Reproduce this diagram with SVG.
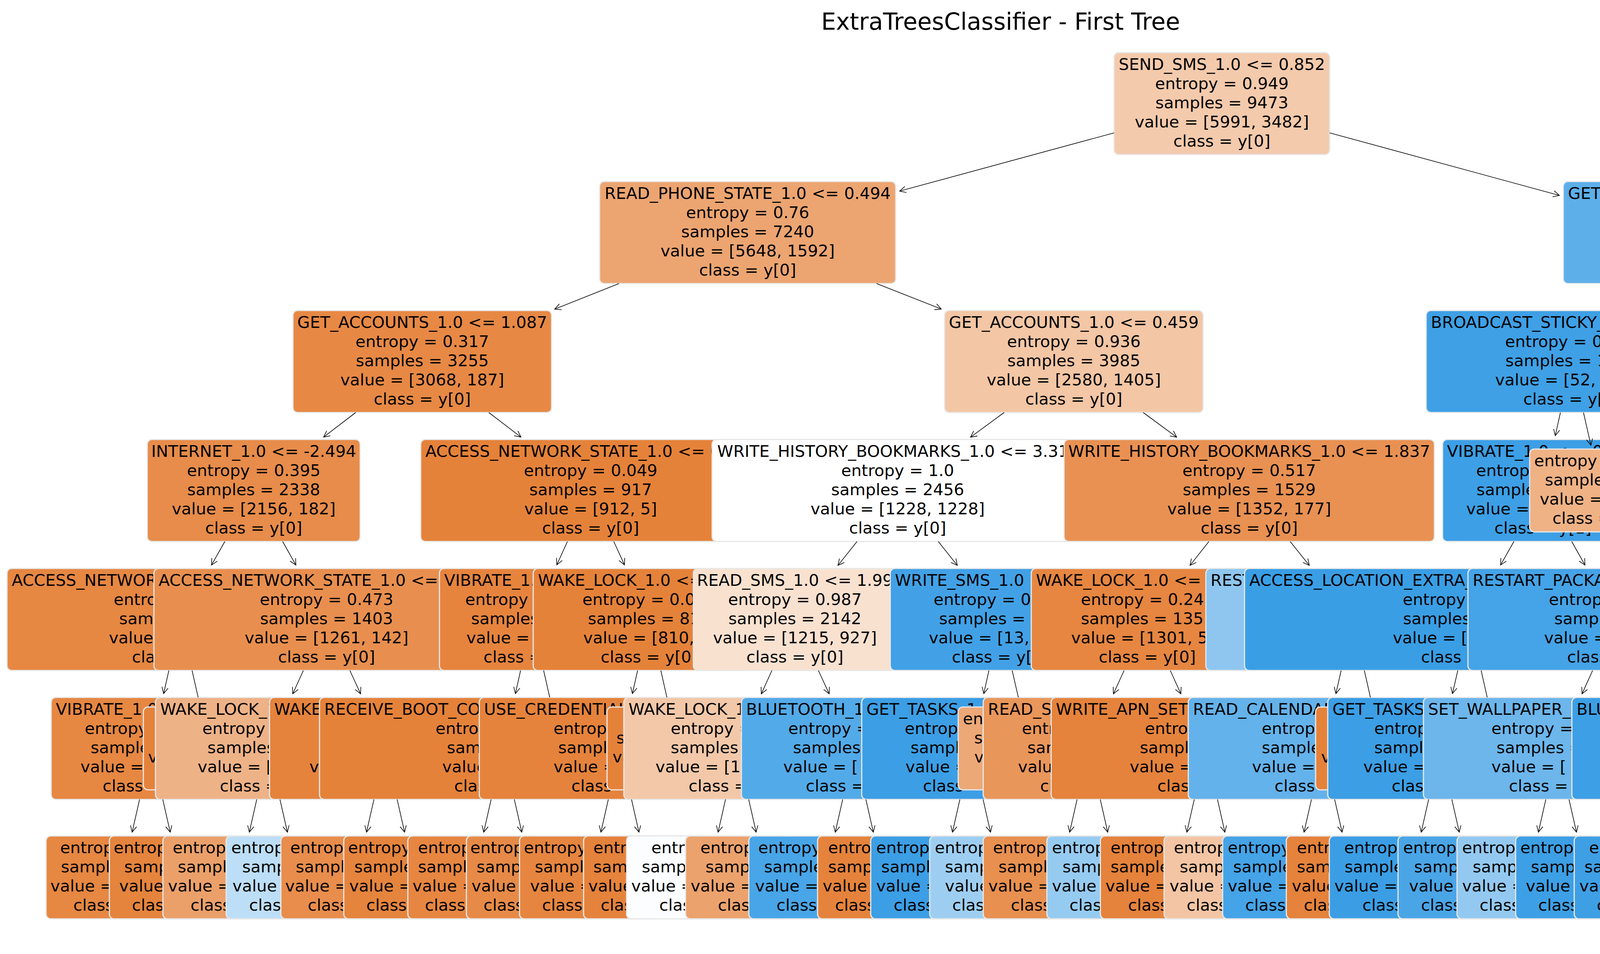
<svg xmlns="http://www.w3.org/2000/svg" width="5123" height="2441" viewBox="0 0 5123 2441">
<style>
text{font-family:'DejaVu Sans','Liberation Sans',sans-serif;font-size:41.67px;fill:#000}
.m{text-anchor:middle}
.b{stroke:#e8e8e8;stroke-width:3}
.e{stroke:#000;stroke-width:1.6;fill:none}
.h{marker-end:url(#ah)}
</style>
<defs>
<marker id="ah" markerUnits="userSpaceOnUse" markerWidth="24" markerHeight="20" refX="16" refY="8" orient="auto" overflow="visible"><path d="M0,0 L16,8 L0,16" fill="none" stroke="#000" stroke-width="1.6"/></marker>
</defs>
<rect width="5123" height="2441" fill="#fff"/>
<text x="2561.5" y="76" class="m" style="font-size:60px">ExtraTreesClassifier - First Tree</text>

<g id="level6">
<g id="n6-1"><rect class="b" x="118" y="2139" width="388" height="212" rx="12" fill="#e68742"/><text x="154" y="2183">entropy =</text><text x="156" y="2232">samples =</text><text x="129" y="2281">value = [</text><text class="m" x="312" y="2330">class = y[0]</text></g>
<g id="n6-2"><rect class="b" x="280" y="2139" width="364" height="212" rx="12" fill="#e5843d"/><text x="291" y="2183">entropy =</text><text x="318" y="2232">samples =</text><text x="305" y="2281">value = [</text><text class="m" x="462" y="2330">class = y[0]</text></g>
<g id="n6-3"><rect class="b" x="417" y="2139" width="390" height="212" rx="12" fill="#eba06a"/><text x="442" y="2183">entropy =</text><text x="455" y="2232">samples =</text><text x="430" y="2281">value = [</text><text class="m" x="612" y="2330">class = y[0]</text></g>
<g id="n6-4"><rect class="b" x="579" y="2139" width="366" height="212" rx="12" fill="#bcdef6"/><text x="592" y="2183">entropy =</text><text x="620" y="2232">samples =</text><text x="595" y="2281">value = [</text><text class="m" x="762" y="2330">class = y[1]</text></g>
<g id="n6-5"><rect class="b" x="719" y="2139" width="386" height="212" rx="12" fill="#e88d4c"/><text x="743" y="2183">entropy =</text><text x="757" y="2232">samples =</text><text x="730" y="2281">value = [</text><text class="m" x="912" y="2330">class = y[0]</text></g>
<g id="n6-6"><rect class="b" x="880" y="2139" width="364" height="212" rx="12" fill="#e5843d"/><text x="891" y="2183">entropy =</text><text x="907" y="2232">samples =</text><text x="894" y="2281">value = [</text><text class="m" x="1062" y="2330">class = y[0]</text></g>
<g id="n6-7"><rect class="b" x="1044" y="2139" width="336" height="212" rx="12" fill="#e68641"/><text x="1070" y="2183">entropy =</text><text x="1070" y="2232">samples =</text><text x="1056" y="2281">value = [</text><text class="m" x="1212" y="2330">class = y[0]</text></g>
<g id="n6-8"><rect class="b" x="1194" y="2139" width="336" height="212" rx="12" fill="#e78a47"/><text x="1204" y="2183">entropy =</text><text x="1220" y="2232">samples =</text><text x="1207" y="2281">value = [</text><text class="m" x="1362" y="2330">class = y[0]</text></g>
<g id="n6-9"><rect class="b" x="1330" y="2139" width="364" height="212" rx="12" fill="#e6853f"/><text x="1341" y="2183">entropy =</text><text x="1369" y="2232">samples =</text><text x="1357" y="2281">value = [</text><text class="m" x="1512" y="2330">class = y[0]</text></g>
<g id="n6-10"><rect class="b" x="1494" y="2139" width="336" height="212" rx="12" fill="#e5823b"/><text x="1519" y="2183">entropy =</text><text x="1519" y="2232">samples =</text><text x="1506" y="2281">value = [</text><text class="m" x="1662" y="2330">class = y[0]</text></g>
<g id="n6-11"><rect class="b" x="1604" y="2139" width="416" height="212" rx="12" fill="#fbfdff"/><text class="m" x="1812" y="2183">entropy = 1.0</text><text x="1643" y="2232">samples =</text><text x="1616" y="2281">value = [</text><text class="m" x="1812" y="2330">class = y[0]</text></g>
<g id="n6-12"><rect class="b" x="1755" y="2139" width="414" height="212" rx="12" fill="#eca26d"/><text x="1793" y="2183">entropy =</text><text x="1806" y="2232">samples =</text><text x="1768" y="2281">value = [</text><text class="m" x="1962" y="2330">class = y[0]</text></g>
<g id="n6-13"><rect class="b" x="1917" y="2139" width="390" height="212" rx="12" fill="#48a5e7"/><text x="1941" y="2183">entropy =</text><text x="1956" y="2232">samples =</text><text x="1933" y="2281">value = [</text><text class="m" x="2112" y="2330">class = y[1]</text></g>
<g id="n6-14"><rect class="b" x="2093" y="2139" width="338" height="212" rx="12" fill="#e5833c"/><text x="2120" y="2183">entropy =</text><text x="2120" y="2232">samples =</text><text x="2106" y="2281">value = [</text><text class="m" x="2262" y="2330">class = y[0]</text></g>
<g id="n6-15"><rect class="b" x="2229" y="2139" width="366" height="212" rx="12" fill="#3c9ee5"/><text x="2243" y="2183">entropy =</text><text x="2256" y="2232">samples =</text><text x="2243" y="2281">value = [</text><text class="m" x="2412" y="2330">class = y[1]</text></g>
<g id="n6-16"><rect class="b" x="2380" y="2139" width="364" height="212" rx="12" fill="#9dcef2"/><text x="2393" y="2183">entropy =</text><text x="2419" y="2232">samples =</text><text x="2419" y="2281">value = [</text><text class="m" x="2562" y="2330">class = y[1]</text></g>
<g id="n6-17"><rect class="b" x="2517" y="2139" width="390" height="212" rx="12" fill="#e89050"/><text x="2542" y="2183">entropy =</text><text x="2556" y="2232">samples =</text><text x="2530" y="2281">value = [</text><text class="m" x="2712" y="2330">class = y[0]</text></g>
<g id="n6-18"><rect class="b" x="2680" y="2139" width="364" height="212" rx="12" fill="#96cbf1"/><text x="2693" y="2183">entropy =</text><text x="2720" y="2232">samples =</text><text x="2693" y="2281">value = [</text><text class="m" x="2862" y="2330">class = y[1]</text></g>
<g id="n6-19"><rect class="b" x="2817" y="2139" width="390" height="212" rx="12" fill="#e5823b"/><text x="2843" y="2183">entropy =</text><text x="2843" y="2232">samples =</text><text x="2830" y="2281">value = [</text><text class="m" x="3012" y="2330">class = y[0]</text></g>
<g id="n6-20"><rect class="b" x="2980" y="2139" width="364" height="212" rx="12" fill="#f3c5a4"/><text x="3005" y="2183">entropy =</text><text x="3020" y="2232">samples =</text><text x="2994" y="2281">value = [</text><text class="m" x="3162" y="2330">class = y[0]</text></g>
<g id="n6-21"><rect class="b" x="3130" y="2139" width="364" height="212" rx="12" fill="#45a3e7"/><text x="3143" y="2183">entropy =</text><text x="3157" y="2232">samples =</text><text x="3143" y="2281">value = [</text><text class="m" x="3312" y="2330">class = y[1]</text></g>
<g id="n6-22"><rect class="b" x="3293" y="2139" width="338" height="212" rx="12" fill="#e5823b"/><text x="3320" y="2183">entropy =</text><text x="3320" y="2232">samples =</text><text x="3307" y="2281">value = [</text><text class="m" x="3462" y="2330">class = y[0]</text></g>
<g id="n6-23"><rect class="b" x="3403" y="2139" width="418" height="212" rx="12" fill="#3b9ee5"/><text x="3441" y="2183">entropy =</text><text x="3442" y="2232">samples =</text><text x="3416" y="2281">value = [</text><text class="m" x="3612" y="2330">class = y[1]</text></g>
<g id="n6-24"><rect class="b" x="3579" y="2139" width="366" height="212" rx="12" fill="#4aa5e7"/><text x="3592" y="2183">entropy =</text><text x="3620" y="2232">samples =</text><text x="3607" y="2281">value = [</text><text class="m" x="3762" y="2330">class = y[1]</text></g>
<g id="n6-25"><rect class="b" x="3730" y="2139" width="364" height="212" rx="12" fill="#93c9f1"/><text x="3743" y="2183">entropy =</text><text x="3770" y="2232">samples =</text><text x="3743" y="2281">value = [</text><text class="m" x="3912" y="2330">class = y[1]</text></g>
<g id="n6-26"><rect class="b" x="3880" y="2139" width="364" height="212" rx="12" fill="#3d9fe5"/><text x="3892" y="2183">entropy =</text><text x="3919" y="2232">samples =</text><text x="3906" y="2281">value = [</text><text class="m" x="4062" y="2330">class = y[1]</text></g>
<g id="n6-27"><rect class="b" x="4030" y="2139" width="364" height="212" rx="12" fill="#3e9fe5"/><text x="4068" y="2183">entropy =</text><text x="4056" y="2232">samples =</text><text x="4043" y="2281">value = [</text><text class="m" x="4212" y="2330">class = y[1]</text></g>
<g id="n6-28"><rect class="b" x="4180" y="2139" width="364" height="212" rx="12" fill="#3b9ee5"/><text x="4191" y="2183">entropy =</text><text x="4219" y="2232">samples =</text><text x="4206" y="2281">value = [</text><text class="m" x="4362" y="2330">class = y[1]</text></g>
<g id="n6-29"><rect class="b" x="4329" y="2139" width="366" height="212" rx="12" fill="#eaf5fc"/><text class="m" x="4512" y="2183">entropy = 0.998</text><text class="m" x="4512" y="2232">samples = 72</text><text class="m" x="4512" y="2281">value = [34, 38]</text><text class="m" x="4512" y="2330">class = y[1]</text></g>
<g id="n6-30"><rect class="b" x="4480" y="2139" width="364" height="212" rx="12" fill="#e89050"/><text class="m" x="4662" y="2183">entropy = 0.483</text><text class="m" x="4662" y="2232">samples = 67</text><text class="m" x="4662" y="2281">value = [60, 7]</text><text class="m" x="4662" y="2330">class = y[0]</text></g>
</g>

<g id="level5">
<g id="n5-vibrate"><rect class="b" x="131" y="1784.5" width="512" height="261" rx="12" fill="#e68742"/><text x="143" y="1828.5">VIBRATE_1.0 &lt;=</text><text x="217" y="1877.5">entropy =</text><text x="232" y="1926.5">samples =</text><text x="206" y="1975.5">value = [</text><text class="m" x="387" y="2024.5">class = y[0]</text></g>
<g id="n5-leaf537"><rect class="b" x="367" y="1809" width="340" height="212" rx="12" fill="#e5823a"/><text x="379" y="1951">value =</text></g>
<g id="n5-wakelock-a"><rect class="b" x="398" y="1784.5" width="578" height="261" rx="12" fill="#eeb287"/><text x="410" y="1828.5">WAKE_LOCK_1.0 &lt;=</text><text x="518" y="1877.5">entropy =</text><text x="531" y="1926.5">samples =</text><text x="506" y="1975.5">value = [</text><text class="m" x="687" y="2024.5">class = y[0]</text></g>
<g id="n5-wake"><rect class="b" x="690" y="1784.5" width="594" height="261" rx="12" fill="#e5833c"/><text x="702" y="1828.5">WAKE</text><text x="792" y="1975.5">value =</text></g>
<g id="n5-receive"><rect class="b" x="818" y="1784.5" width="938" height="261" rx="12" fill="#e5823a"/><text x="830" y="1828.5">RECEIVE_BOOT_CO</text><text x="1115" y="1877.5">entropy =</text><text x="1144" y="1926.5">samples =</text><text x="1132" y="1975.5">value = [</text><text class="m" x="1287" y="2024.5">class = y[0]</text></g>
<g id="n5-usecred"><rect class="b" x="1227" y="1784.5" width="720" height="261" rx="12" fill="#e5833c"/><text x="1239" y="1828.5">USE_CREDENTIALS_1.0 &lt;=</text><text x="1417" y="1877.5">entropy =</text><text x="1429" y="1926.5">samples =</text><text x="1417" y="1975.5">value = [</text><text class="m" x="1587" y="2024.5">class = y[0]</text></g>
<g id="n5-leaf1737"><rect class="b" x="1554" y="1809" width="366" height="212" rx="12" fill="#e5823a"/><text x="1578" y="1902">samples =</text><text x="1568" y="1951">value =</text></g>
<g id="n5-wakelock-b"><rect class="b" x="1597" y="1784.5" width="580" height="261" rx="12" fill="#f2c8a9"/><text x="1609" y="1828.5">WAKE_LOCK_1.0 &lt;=</text><text x="1717" y="1877.5">entropy =</text><text x="1717" y="1926.5">samples =</text><text x="1678" y="1975.5">value = [1</text><text class="m" x="1887" y="2024.5">class = y[0]</text></g>
<g id="n5-bluetooth-a"><rect class="b" x="1898" y="1784.5" width="578" height="261" rx="12" fill="#53aae8"/><text x="1910" y="1828.5">BLUETOOTH_1.0 &lt;=</text><text x="2018" y="1877.5">entropy =</text><text x="2030" y="1926.5">samples =</text><text x="2005" y="1975.5">value = [</text><text class="m" x="2187" y="2024.5">class = y[1]</text></g>
<g id="n5-gettasks-a"><rect class="b" x="2206" y="1784.5" width="562" height="261" rx="12" fill="#3c9ee5"/><text x="2218" y="1828.5">GET_TASKS_1.0 &lt;=</text><text x="2316" y="1877.5">entropy =</text><text x="2331" y="1926.5">samples =</text><text x="2318" y="1975.5">value = [</text><text class="m" x="2487" y="2024.5">class = y[1]</text></g>
<g id="n5-leaf2637"><rect class="b" x="2453" y="1809" width="368" height="212" rx="12" fill="#eda877"/><text x="2465" y="1853">entropy =</text><text x="2494" y="1902">samples =</text><text x="2494" y="1951">value =</text></g>
<g id="n5-reads"><rect class="b" x="2517" y="1784.5" width="540" height="261" rx="12" fill="#e9965a"/><text x="2529" y="1828.5">READ_S</text><text x="2616" y="1877.5">entropy =</text><text x="2630" y="1926.5">samples =</text><text x="2606" y="1975.5">value = [</text><text class="m" x="2787" y="2024.5">class = y[0]</text></g>
<g id="n5-writeapn"><rect class="b" x="2691" y="1784.5" width="792" height="261" rx="12" fill="#e5833c"/><text x="2703" y="1828.5">WRITE_APN_SET</text><text x="2931" y="1877.5">entropy =</text><text x="2918" y="1926.5">samples =</text><text x="2892" y="1975.5">value = [</text><text class="m" x="3087" y="2024.5">class = y[0]</text></g>
<g id="n5-readcal"><rect class="b" x="3042" y="1784.5" width="690" height="261" rx="12" fill="#64b2eb"/><text x="3054" y="1828.5">READ_CALENDAR</text><text x="3230" y="1877.5">entropy =</text><text x="3230" y="1926.5">samples =</text><text x="3205" y="1975.5">value = [</text><text class="m" x="3387" y="2024.5">class = y[1]</text></g>
<g id="n5-leaf3537"><rect class="b" x="3368" y="1809" width="338" height="212" rx="12" fill="#e5823a"/><text x="3382" y="1951">value =</text></g>
<g id="n5-gettasks-b"><rect class="b" x="3399" y="1784.5" width="576" height="261" rx="12" fill="#3c9ee5"/><text x="3411" y="1828.5">GET_TASKS_1.0 &lt;=</text><text x="3518" y="1877.5">entropy =</text><text x="3518" y="1926.5">samples =</text><text x="3490" y="1975.5">value = [</text><text class="m" x="3687" y="2024.5">class = y[1]</text></g>
<g id="n5-setwall"><rect class="b" x="3644" y="1784.5" width="686" height="261" rx="12" fill="#6cb6ec"/><text x="3656" y="1828.5">SET_WALLPAPER_1.0 &lt;=</text><text x="3818" y="1877.5">entropy =</text><text x="3831" y="1926.5">samples =</text><text x="3818" y="1975.5">value = [</text><text class="m" x="3987" y="2024.5">class = y[1]</text></g>
<g id="n5-bluetooth-b"><rect class="b" x="4024" y="1784.5" width="526" height="261" rx="12" fill="#3d9fe5"/><text x="4036" y="1828.5">BLUETOOTH_1.0 &lt;=</text><text x="4130" y="1877.5">entropy =</text><text x="4131" y="1926.5">samples =</text><text x="4119" y="1975.5">value = [</text><text class="m" x="4287" y="2024.5">class = y[1]</text></g>
<g id="n5-gettasks-c"><rect class="b" x="4305" y="1784.5" width="562" height="261" rx="12" fill="#f1bd98"/><text class="m" x="4586" y="1828.5">GET_TASKS_1.0 &lt;= 2.058</text><text class="m" x="4586" y="1877.5">entropy = 0.908</text><text class="m" x="4586" y="1926.5">samples = 139</text><text class="m" x="4586" y="1975.5">value = [94, 45]</text><text class="m" x="4586" y="2024.5">class = y[0]</text></g>
<g id="n5-leaf55"><rect class="b" x="4569" y="1809" width="336" height="212" rx="12" fill="#e58139"/><text class="m" x="4737" y="1853">entropy = 0.0</text><text class="m" x="4737" y="1902">samples = 55</text><text class="m" x="4737" y="1951">value = [55, 0]</text><text class="m" x="4737" y="2000">class = y[0]</text></g>
</g>

<g id="level4">
<g id="n4-ans-a"><rect class="b" x="18" y="1454.5" width="888" height="261" rx="12" fill="#e68742"/><text x="30" y="1498.5">ACCESS_NETWORK_STATE_1.0 &lt;=</text><text class="m" x="462" y="1547.5">entropy = 0.255</text><text class="m" x="462" y="1596.5">samples = 935</text><text class="m" x="462" y="1645.5">value = [895, 40]</text><text class="m" x="462" y="1694.5">class = y[0]</text></g>
<g id="n4-ans-b"><rect class="b" x="394" y="1454.5" width="884" height="261" rx="12" fill="#e88f4f"/><text x="406" y="1498.5">ACCESS_NETWORK_STATE_1.0 &lt;=</text><text class="m" x="836" y="1547.5">entropy = 0.473</text><text class="m" x="836" y="1596.5">samples = 1403</text><text class="m" x="836" y="1645.5">value = [1261, 142]</text><text class="m" x="836" y="1694.5">class = y[0]</text></g>
<g id="n4-vibrate"><rect class="b" x="1125" y="1454.5" width="474" height="261" rx="12" fill="#e6843e"/><text x="1137" y="1498.5">VIBRATE_1.0 &lt;=</text><text x="1191" y="1547.5">entropy =</text><text x="1206" y="1596.5">samples =</text><text x="1194" y="1645.5">value =</text><text class="m" x="1362" y="1694.5">class = y[0]</text></g>
<g id="n4-wakelock"><rect class="b" x="1365" y="1454.5" width="594" height="261" rx="12" fill="#e5823a"/><text x="1377" y="1498.5">WAKE_LOCK_1.0 &lt;=</text><text x="1491" y="1547.5">entropy = 0.0</text><text x="1505" y="1596.5">samples = 81</text><text x="1493" y="1645.5">value = [810,</text><text class="m" x="1662" y="1694.5">class = y[0]</text></g>
<g id="n4-readsms"><rect class="b" x="1775" y="1454.5" width="520" height="261" rx="12" fill="#f9e1d0"/><text class="m" x="2035" y="1498.5">READ_SMS_1.0 &lt;= 1.99</text><text class="m" x="2035" y="1547.5">entropy = 0.987</text><text class="m" x="2035" y="1596.5">samples = 2142</text><text class="m" x="2035" y="1645.5">value = [1215, 927]</text><text class="m" x="2035" y="1694.5">class = y[0]</text></g>
<g id="n4-writesms"><rect class="b" x="2279" y="1454.5" width="564" height="261" rx="12" fill="#42a1e6"/><text x="2291" y="1498.5">WRITE_SMS_1.0 &lt;=</text><text class="m" x="2561" y="1547.5">entropy = 0.249</text><text class="m" x="2561" y="1596.5">samples = 314</text><text class="m" x="2561" y="1645.5">value = [13, 301]</text><text class="m" x="2561" y="1694.5">class = y[1]</text></g>
<g id="n4-wakelock-b"><rect class="b" x="2640" y="1454.5" width="594" height="261" rx="12" fill="#e68641"/><text x="2652" y="1498.5">WAKE_LOCK_1.0 &lt;=</text><text x="2767" y="1547.5">entropy = 0.24</text><text x="2767" y="1596.5">samples = 135</text><text x="2742" y="1645.5">value = [1301, 5</text><text class="m" x="2937" y="1694.5">class = y[0]</text></g>
<g id="n4-rest-a"><rect class="b" x="3087" y="1454.5" width="752" height="261" rx="12" fill="#8ec6f0"/><text x="3099" y="1498.5">REST</text></g>
<g id="n4-accessloc"><rect class="b" x="3186" y="1454.5" width="1152" height="261" rx="12" fill="#3a9ee5"/><text x="3198" y="1498.5">ACCESS_LOCATION_EXTRA_</text><text class="m" x="3762" y="1547.5">entropy = 0.086</text><text class="m" x="3762" y="1596.5">samples = 1389</text><text class="m" x="3762" y="1645.5">value = [15, 1374]</text><text class="m" x="3762" y="1694.5">class = y[1]</text></g>
<g id="n4-restart-b"><rect class="b" x="3758" y="1454.5" width="756" height="261" rx="12" fill="#45a3e7"/><text x="3770" y="1498.5">RESTART_PACKAGES_1.0 &lt;=</text><text class="m" x="4136" y="1547.5">entropy = 0.307</text><text class="m" x="4136" y="1596.5">samples = 436</text><text class="m" x="4136" y="1645.5">value = [24, 412]</text><text class="m" x="4136" y="1694.5">class = y[1]</text></g>
<g id="n4-usecred"><rect class="b" x="4302" y="1454.5" width="720" height="261" rx="12" fill="#eda775"/><text class="m" x="4662" y="1498.5">USE_CREDENTIALS_1.0 &lt;= 0.103</text><text class="m" x="4662" y="1547.5">entropy = 0.781</text><text class="m" x="4662" y="1596.5">samples = 194</text><text class="m" x="4662" y="1645.5">value = [149, 45]</text><text class="m" x="4662" y="1694.5">class = y[0]</text></g>
<g id="n4-leaf142"><rect class="b" x="4631" y="1479" width="362" height="212" rx="12" fill="#e58139"/><text class="m" x="4812" y="1523">entropy = 0.0</text><text class="m" x="4812" y="1572">samples = 142</text><text class="m" x="4812" y="1621">value = [142, 0]</text><text class="m" x="4812" y="1670">class = y[0]</text></g>
</g>

<g id="level3">
<g id="n3-internet"><rect class="b" x="377" y="1124.5" width="545" height="261" rx="12" fill="#e78c4a"/><text class="m" x="649.5" y="1168.5">INTERNET_1.0 &lt;= -2.494</text><text class="m" x="649.5" y="1217.5">entropy = 0.395</text><text class="m" x="649.5" y="1266.5">samples = 2338</text><text class="m" x="649.5" y="1315.5">value = [2156, 182]</text><text class="m" x="649.5" y="1364.5">class = y[0]</text></g>
<g id="n3-ans"><rect class="b" x="1077" y="1124.5" width="870" height="261" rx="12" fill="#e5823a"/><text x="1089" y="1168.5">ACCESS_NETWORK_STATE_1.0 &lt;= 0</text><text class="m" x="1512" y="1217.5">entropy = 0.049</text><text class="m" x="1512" y="1266.5">samples = 917</text><text class="m" x="1512" y="1315.5">value = [912, 5]</text><text class="m" x="1512" y="1364.5">class = y[0]</text></g>
<g id="n3-whb-a"><rect class="b" x="1823" y="1124.5" width="950" height="261" rx="12" fill="#ffffff"/><text x="1836" y="1168.5">WRITE_HISTORY_BOOKMARKS_1.0 &lt;= 3.31</text><text class="m" x="2298" y="1217.5">entropy = 1.0</text><text class="m" x="2298" y="1266.5">samples = 2456</text><text class="m" x="2298" y="1315.5">value = [1228, 1228]</text><text class="m" x="2298" y="1364.5">class = y[0]</text></g>
<g id="n3-whb-b"><rect class="b" x="2724" y="1124.5" width="948" height="261" rx="12" fill="#e89153"/><text class="m" x="3198" y="1168.5">WRITE_HISTORY_BOOKMARKS_1.0 &lt;= 1.837</text><text class="m" x="3198" y="1217.5">entropy = 0.517</text><text class="m" x="3198" y="1266.5">samples = 1529</text><text class="m" x="3198" y="1315.5">value = [1352, 177]</text><text class="m" x="3198" y="1364.5">class = y[0]</text></g>
<g id="n3-vibrate"><rect class="b" x="3693" y="1124.5" width="514" height="261" rx="12" fill="#3d9fe6"/><text class="m" x="3950" y="1168.5">VIBRATE_1.0 &lt;= -0.451</text><text class="m" x="3950" y="1217.5">entropy = 0.149</text><text class="m" x="3950" y="1266.5">samples = 1825</text><text class="m" x="3950" y="1315.5">value = [39, 1786]</text><text class="m" x="3950" y="1364.5">class = y[1]</text></g>
<g id="n3-leaf18"><rect class="b" x="3916" y="1149" width="365" height="212" rx="12" fill="#efb285"/><text class="m" x="4098.5" y="1193">entropy = 0.852</text><text class="m" x="4098.5" y="1242">samples = 18</text><text class="m" x="4098.5" y="1291">value = [13, 5]</text><text class="m" x="4098.5" y="1340">class = y[0]</text></g>
<g id="n3-record"><rect class="b" x="4408" y="1124.5" width="657" height="261" rx="12" fill="#e99558"/><text class="m" x="4736.5" y="1168.5">RECORD_AUDIO_1.0 &lt;= 2.241</text><text class="m" x="4736.5" y="1217.5">entropy = 0.568</text><text class="m" x="4736.5" y="1266.5">samples = 336</text><text class="m" x="4736.5" y="1315.5">value = [291, 45]</text><text class="m" x="4736.5" y="1364.5">class = y[0]</text></g>
</g>

<g id="level2">
<g id="n2-ga-a"><rect class="b" x="750" y="794.5" width="662" height="261" rx="12" fill="#e78945"/><text class="m" x="1081" y="838.5">GET_ACCOUNTS_1.0 &lt;= 1.087</text><text class="m" x="1081" y="887.5">entropy = 0.317</text><text class="m" x="1081" y="936.5">samples = 3255</text><text class="m" x="1081" y="985.5">value = [3068, 187]</text><text class="m" x="1081" y="1034.5">class = y[0]</text></g>
<g id="n2-ga-b"><rect class="b" x="2418" y="794.5" width="662" height="261" rx="12" fill="#f3c6a5"/><text class="m" x="2749" y="838.5">GET_ACCOUNTS_1.0 &lt;= 0.459</text><text class="m" x="2749" y="887.5">entropy = 0.936</text><text class="m" x="2749" y="936.5">samples = 3985</text><text class="m" x="2749" y="985.5">value = [2580, 1405]</text><text class="m" x="2749" y="1034.5">class = y[0]</text></g>
<g id="n2-broadcast"><rect class="b" x="3651" y="794.5" width="746" height="261" rx="12" fill="#3fa0e6"/><text x="3663" y="838.5">BROADCAST_STICKY_1.0 &lt;=</text><text class="m" x="4024" y="887.5">entropy = 0.185</text><text class="m" x="4024" y="936.5">samples = 1843</text><text class="m" x="4024" y="985.5">value = [52, 1791]</text><text class="m" x="4024" y="1034.5">class = y[1]</text></g>
<g id="n2-ans"><rect class="b" x="4219" y="794.5" width="884" height="261" rx="12" fill="#eeac7c"/><text class="m" x="4661" y="838.5">ACCESS_NETWORK_STATE_1.0 &lt;= -0.408</text><text class="m" x="4661" y="887.5">entropy = 0.817</text><text class="m" x="4661" y="936.5">samples = 390</text><text class="m" x="4661" y="985.5">value = [291, 99]</text><text class="m" x="4661" y="1034.5">class = y[0]</text></g>
</g>

<g id="level1">
<g id="n1-rps"><rect class="b" x="1535" y="464.5" width="758" height="261" rx="12" fill="#eca571"/><text class="m" x="1914" y="508.5">READ_PHONE_STATE_1.0 &lt;= 0.494</text><text class="m" x="1914" y="557.5">entropy = 0.76</text><text class="m" x="1914" y="606.5">samples = 7240</text><text class="m" x="1914" y="655.5">value = [5648, 1592]</text><text class="m" x="1914" y="704.5">class = y[0]</text></g>
<g id="n1-ga"><rect class="b" x="4002" y="464.5" width="679" height="261" rx="12" fill="#5dafea"/><text class="m" x="4341.5" y="508.5">GET_ACCOUNTS_1.0 &lt;= -0.322</text><text class="m" x="4341.5" y="557.5">entropy = 0.619</text><text class="m" x="4341.5" y="606.5">samples = 2233</text><text class="m" x="4341.5" y="655.5">value = [343, 1890]</text><text class="m" x="4341.5" y="704.5">class = y[1]</text></g>
</g>

<g id="n0-root"><rect class="b" x="2852" y="134.5" width="552" height="261" rx="12" fill="#f4caac"/><text class="m" x="3128" y="178.5">SEND_SMS_1.0 &lt;= 0.852</text><text class="m" x="3128" y="227.5">entropy = 0.949</text><text class="m" x="3128" y="276.5">samples = 9473</text><text class="m" x="3128" y="325.5">value = [5991, 3482]</text><text class="m" x="3128" y="374.5">class = y[0]</text></g>

<g id="connectors" class="e">
<path class="h" d="M2852,340 L2303,489"/>
<path class="h" d="M3404,340 L3992,500"/>
<path class="h" d="M1584.6,725.5 L1420,791"/>
<path class="h" d="M2244,725.5 L2409.7,790.8"/>
<path class="h" d="M4215.6,725.5 L4156.3,787.3"/>
<path class="h" d="M4467.6,725.5 L4527.4,787.3"/>
<path class="h" d="M910.6,1055.5 L828.4,1118.4"/>
<path class="h" d="M1251.4,1055.5 L1333.6,1118.4"/>
<path class="h" d="M2570.6,1055.5 L2484.5,1118.6"/>
<path class="h" d="M2926.6,1055.5 L3012.3,1118.6"/>
<path class="h" d="M3994.7,1055.5 L3981.5,1114.7"/>
<path class="h" d="M4053.7,1055.5 L4072.7,1139.2"/>
<path d="M4631,1055.5 L4615,1124.5"/>
<path class="h" d="M4691,1055.5 L4704.8,1114.8"/>
<path class="h" d="M575.6,1385.5 L541.4,1445.8"/>
<path class="h" d="M723.6,1385.5 L757.5,1445.8"/>
<path class="h" d="M1452.7,1385.5 L1425.4,1445.4"/>
<path class="h" d="M1571.3,1385.5 L1598.6,1445.4"/>
<path class="h" d="M2194,1385.5 L2145.2,1446.7"/>
<path class="h" d="M2402,1385.5 L2450.8,1446.7"/>
<path class="h" d="M3094.8,1385.5 L3046.4,1446.7"/>
<path class="h" d="M3302.8,1385.5 L3351.9,1446.7"/>
<path class="h" d="M3875.6,1385.5 L3841.4,1445.8"/>
<path class="h" d="M4023.6,1385.5 L4057.5,1445.8"/>
<path class="h" d="M4707.3,1385.5 L4693.9,1444.8"/>
<path class="h" d="M4766.3,1385.5 L4785,1469.2"/>
<path class="h" d="M432.3,1715.5 L418.9,1774.8"/>
<path d="M491.7,1715.5 L507.3,1784.5"/>
<path class="h" d="M776.7,1715.5 L749.4,1775.4"/>
<path class="h" d="M895.7,1715.5 L923.1,1775.4"/>
<path class="h" d="M1332.7,1715.5 L1319.5,1774.7"/>
<path d="M1391.7,1715.5 L1407.3,1784.5"/>
<path class="h" d="M1632.3,1715.5 L1618.9,1774.8"/>
<path d="M1691.7,1715.5 L1707.3,1784.5"/>
<path class="h" d="M1976.1,1715.5 L1949,1775.4"/>
<path class="h" d="M2095.1,1715.5 L2122.7,1775.4"/>
<path class="h" d="M2531.7,1715.5 L2518.5,1774.7"/>
<path d="M2591.1,1715.5 L2607,1784.5"/>
<path class="h" d="M2877.7,1715.5 L2850.4,1775.4"/>
<path class="h" d="M2995.9,1715.5 L3023,1775.4"/>
<path class="h" d="M3433.3,1715.5 L3419.9,1774.8"/>
<path d="M3492.7,1715.5 L3508.3,1784.5"/>
<path class="h" d="M3732,1715.5 L3718.3,1774.8"/>
<path d="M3791.7,1715.5 L3807.3,1784.5"/>
<path class="h" d="M4077.1,1715.5 L4050,1775.4"/>
<path class="h" d="M4195.7,1715.5 L4223.1,1775.4"/>
<path class="h" d="M4632,1715.5 L4618.3,1774.8"/>
<path class="h" d="M4691.7,1715.5 L4710.7,1799.2"/>
<path class="h" d="M357.3,2045.5 L338.3,2129.2"/><path class="h" d="M416.7,2045.5 L435.7,2129.2"/>
<path class="h" d="M657.3,2045.5 L638.3,2129.2"/><path class="h" d="M716.7,2045.5 L735.7,2129.2"/>
<path class="h" d="M957.3,2045.5 L938.3,2129.2"/><path class="h" d="M1016.7,2045.5 L1035.7,2129.2"/>
<path class="h" d="M1257.3,2045.5 L1238.3,2129.2"/><path class="h" d="M1316.7,2045.5 L1335.7,2129.2"/>
<path class="h" d="M1557.3,2045.5 L1538.3,2129.2"/><path class="h" d="M1616.7,2045.5 L1635.7,2129.2"/>
<path class="h" d="M1857.3,2045.5 L1838.3,2129.2"/><path class="h" d="M1916.7,2045.5 L1935.7,2129.2"/>
<path class="h" d="M2157.3,2045.5 L2138.3,2129.2"/><path class="h" d="M2216.7,2045.5 L2235.7,2129.2"/>
<path class="h" d="M2457.3,2045.5 L2438.3,2129.2"/><path class="h" d="M2516.7,2045.5 L2535.7,2129.2"/>
<path class="h" d="M2757.3,2045.5 L2738.3,2129.2"/><path class="h" d="M2816.7,2045.5 L2835.7,2129.2"/>
<path class="h" d="M3057.3,2045.5 L3038.3,2129.2"/><path class="h" d="M3116.7,2045.5 L3135.7,2129.2"/>
<path class="h" d="M3357.3,2045.5 L3338.3,2129.2"/><path class="h" d="M3416.7,2045.5 L3435.7,2129.2"/>
<path class="h" d="M3657.3,2045.5 L3638.3,2129.2"/><path class="h" d="M3716.7,2045.5 L3735.7,2129.2"/>
<path class="h" d="M3957.3,2045.5 L3938.3,2129.2"/><path class="h" d="M4016.7,2045.5 L4035.7,2129.2"/>
<path class="h" d="M4257.3,2045.5 L4238.3,2129.2"/><path class="h" d="M4316.7,2045.5 L4335.7,2129.2"/>
<path class="h" d="M4557.3,2045.5 L4538.3,2129.2"/><path class="h" d="M4616.7,2045.5 L4635.7,2129.2"/>
</g>
</svg>
